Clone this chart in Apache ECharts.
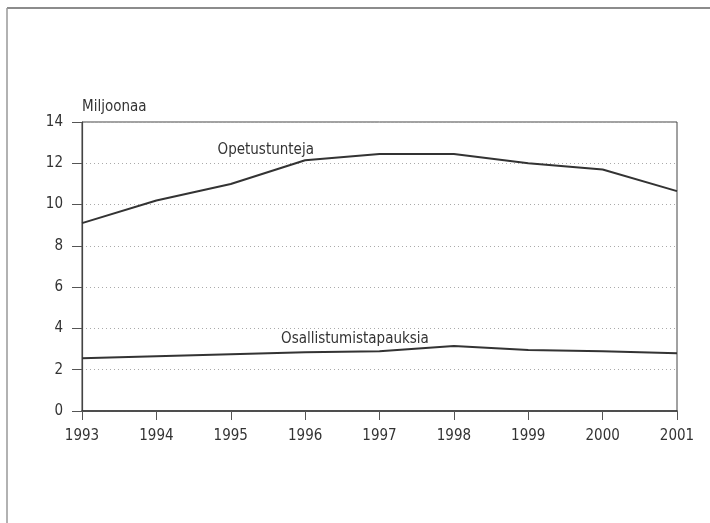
<!DOCTYPE html>
<html>
<head>
<meta charset="utf-8">
<script src="https://cdn.jsdelivr.net/npm/echarts@6/dist/echarts.min.js"></script>
<style>
  html, body { margin: 0; padding: 0; background: #fff; }
  #chart { width: 710px; height: 523px; }
</style>
</head>
<body>
<div id="chart"></div>
<script>
// vuodet ja sarjat
var years = [1993, 1994, 1995, 1996, 1997, 1998, 1999, 2000, 2001];
var opetustunteja = [9.1, 10.2, 11.0, 12.15, 12.45, 12.45, 12.0, 11.7, 10.65];
var osallistumistapauksia = [2.55, 2.65, 2.75, 2.85, 2.9, 3.15, 2.95, 2.9, 2.8];
var yTicks = [0, 2, 4, 6, 8, 10, 12, 14];

var FONT = '"Liberation Sans Narrow", "DejaVu Sans Condensed", "Liberation Sans", sans-serif';

function pairs(vals) {
  var out = [];
  for (var i = 0; i < years.length; i++) {
    out.push([years[i], vals[i]]);
  }
  return out;
}

// tekstin paikka datakoordinaateissa
function textMark(txt, x, y) {
  return {
    symbol: "circle",
    symbolSize: 1,
    itemStyle: { color: "rgba(0,0,0,0)" },
    label: {
      show: true,
      position: "inside",
      color: "#333",
      fontFamily: FONT,
      fontSize: 15,
      formatter: txt
    },
    data: [{ coord: [x, y] }]
  };
}

var chart = echarts.init(document.getElementById("chart"));
chart.setOption({
  animation: false,
  backgroundColor: "#fff",
  graphic: [
    // kehys
    { type: "line", shape: { x1: 7, y1: 8, x2: 710, y2: 8 }, style: { stroke: "#666", lineWidth: 1.5 } },
    { type: "line", shape: { x1: 7, y1: 8, x2: 7, y2: 523 }, style: { stroke: "#999", lineWidth: 1.5 } }
  ],
  grid: {
    left: 82,
    right: 33,
    top: 122,
    bottom: 112,
    show: true,
    borderColor: "#444",
    borderWidth: 1
  },
  xAxis: {
    type: "value",
    min: 1993,
    max: 2001,
    interval: 1,
    axisLine: { show: true, lineStyle: { color: "#333", width: 1.5 } },
    axisTick: { show: true, length: 9, lineStyle: { color: "#555" } },
    axisLabel: {
      color: "#333",
      fontFamily: FONT,
      fontSize: 15,
      margin: 18,
      formatter: function(v) { return String(v); }
    },
    splitLine: { show: false }
  },
  yAxis: {
    type: "value",
    min: yTicks[0],
    max: yTicks[yTicks.length - 1],
    interval: 2,
    name: "Miljoonaa",
    nameLocation: "end",
    nameGap: 7,
    nameTextStyle: { color: "#333", fontFamily: FONT, fontSize: 15, align: "left" },
    axisLine: { show: true, lineStyle: { color: "#444", width: 1.2 } },
    axisTick: { show: true, length: 10, lineStyle: { color: "#555" } },
    axisLabel: { color: "#333", fontFamily: FONT, fontSize: 15, margin: 19 },
    splitLine: { show: true, lineStyle: { color: "#aaa", type: [1, 3], width: 1 } }
  },
  series: [
    {
      name: "Opetustunteja",
      type: "line",
      symbol: "none",
      lineStyle: { color: "#333", width: 2 },
      data: pairs(opetustunteja),
      markPoint: textMark("Opetustunteja", 1995.47, 12.62)
    },
    {
      name: "Osallistumistapauksia",
      type: "line",
      symbol: "none",
      lineStyle: { color: "#333", width: 2 },
      data: pairs(osallistumistapauksia),
      markPoint: textMark("Osallistumistapauksia", 1996.67, 3.48)
    }
  ]
});
</script>
</body>
</html>
